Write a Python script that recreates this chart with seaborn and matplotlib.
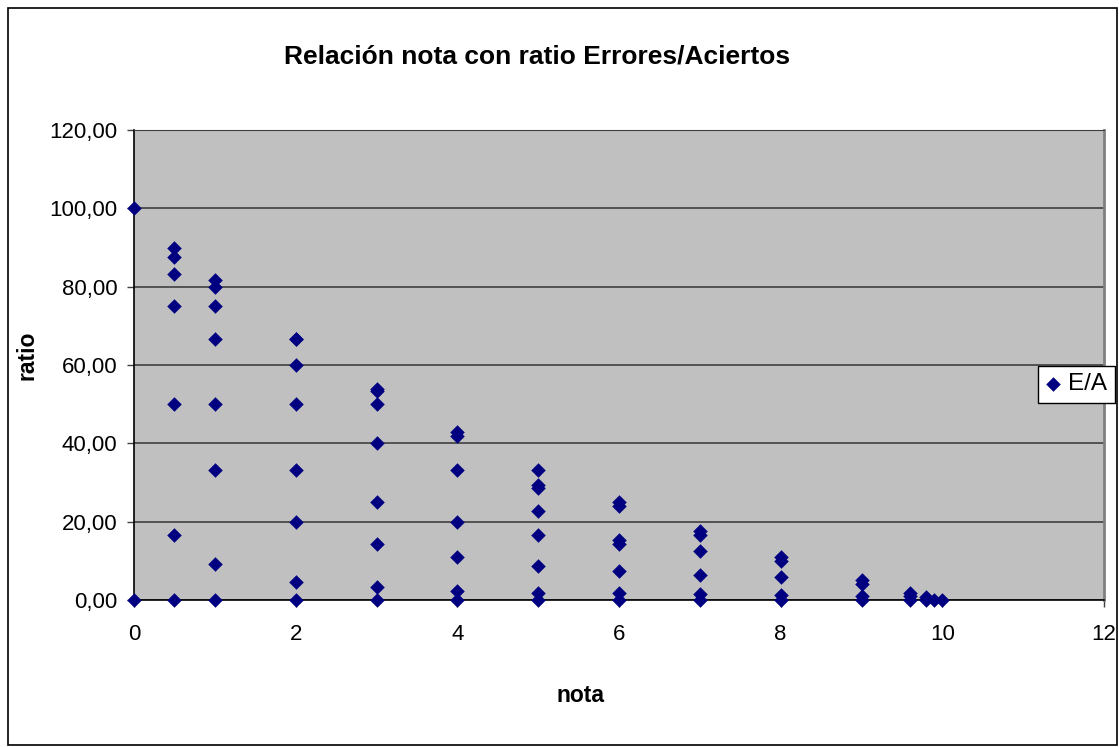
import pandas as pd
import matplotlib
matplotlib.use("Agg")
import matplotlib.pyplot as plt
import seaborn as sns
from matplotlib.patches import Rectangle
from matplotlib.ticker import FuncFormatter

# datos: nota y ratio errores/aciertos
nota = ([0, 0]
        + [0.5] * 7
        + [1] * 8
        + [2] * 8
        + [3] * 8
        + [4] * 7
        + [5] * 8
        + [6] * 7
        + [7] * 6
        + [8] * 5
        + [9] * 4
        + [9.6] * 3
        + [9.8] * 2
        + [9.9, 10])
ratio = ([100, 0]
         + [90.0, 87.5, 83.3, 75.0, 50.0, 16.7, 0]
         + [81.8, 80.0, 75.0, 66.7, 50.0, 33.3, 9.1, 0]
         + [66.7, 66.7, 60.0, 50.0, 33.3, 20.0, 4.5, 0]
         + [53.8, 53.3, 50.0, 40.0, 25.0, 14.3, 3.2, 0]
         + [43.0, 42.0, 33.3, 20.0, 11.1, 2.4, 0]
         + [33.3, 29.4, 28.6, 22.7, 16.7, 8.7, 1.9, 0]
         + [25.0, 24.1, 15.4, 14.3, 7.4, 1.9, 0]
         + [17.6, 16.7, 12.5, 6.3, 1.5, 0]
         + [11.1, 10.0, 5.9, 1.4, 0]
         + [5.0, 4.2, 1.1, 0]
         + [1.9, 0.9, 0]
         + [0.8, 0]
         + [0, 0])
serie = "E/A"
titulo = "Relación nota con ratio Errores/Aciertos"
x_ticks = [0, 2, 4, 6, 8, 10, 12]
y_ticks = [0, 20, 40, 60, 80, 100, 120]

dados = pd.DataFrame({"nota": nota, "ratio": ratio})

sns.set_style("white")
plt.rcParams["font.family"] = ["Liberation Sans", "DejaVu Sans"]
plt.rcParams["text.color"] = "black"
plt.rcParams["xtick.color"] = "black"
plt.rcParams["ytick.color"] = "black"

W, H = 1119, 747
fig = plt.figure(figsize=(W / 100, H / 100), dpi=100)
ax = fig.add_axes([134 / W, 1 - 600 / H, (1104 - 134) / W, (600 - 130) / H])
ax.set_facecolor("#C0C0C0")

sns.scatterplot(data=dados, x="nota", y="ratio", ax=ax, marker="D", s=55,
                color="#000080", edgecolor="#000080", linewidth=0,
                label=serie, zorder=3, clip_on=False)

ax.set_xlim(0, 12)
ax.set_ylim(0, 120)
ax.set_xticks(x_ticks)
ax.set_yticks(y_ticks)
ax.yaxis.set_major_formatter(FuncFormatter(lambda v, p: f"{v:.2f}".replace(".", ",")))
ax.grid(axis="y", color="#404040", linewidth=1.2)
ax.grid(axis="x", visible=False)
ax.set_axisbelow(True)
ax.tick_params(axis="both", labelsize=16, length=5, width=1, color="#404040",
               labelcolor="black", direction="out")
ax.tick_params(axis="y", pad=7, left=True)
ax.tick_params(axis="x", pad=12, bottom=True)
for lado in ["left", "bottom"]:
    ax.spines[lado].set_color("black")
    ax.spines[lado].set_linewidth(1.2)
ax.spines["top"].set_color("#404040")
ax.spines["right"].set_color("#808080")
ax.spines["right"].set_linewidth(2)
ax.set_xlabel("")
ax.set_ylabel("")

# leyenda a la derecha
leg = ax.legend(loc="upper left", bbox_to_anchor=(1038 / W, 1 - 366 / H),
                bbox_transform=fig.transFigure, frameon=True, fancybox=False,
                framealpha=1, fontsize=17.5, handlelength=0.6,
                handletextpad=0.35, borderpad=0.3, borderaxespad=0,
                markerscale=1.0)
leg.get_frame().set_edgecolor("black")
leg.get_frame().set_linewidth(1)
leg.get_frame().set_facecolor("white")
leg.set_zorder(5)

fig.text(537 / W, 1 - 57 / H, titulo, ha="center", va="center",
         fontsize=19, fontweight="bold")
fig.text(581 / W, 1 - 695 / H, "nota", ha="center", va="center",
         fontsize=16.5, fontweight="bold")
fig.text(27 / W, 1 - 355 / H, "ratio", ha="center", va="center",
         rotation=90, fontsize=16.5, fontweight="bold")

# marco exterior del grafico
fig.patches.append(Rectangle((8 / W, 2 / H), (1117 - 8) / W, (739 - 2) / H,
                             transform=fig.transFigure, fill=False,
                             edgecolor="black", linewidth=1.2))

fig.savefig("out.png", dpi=100)
